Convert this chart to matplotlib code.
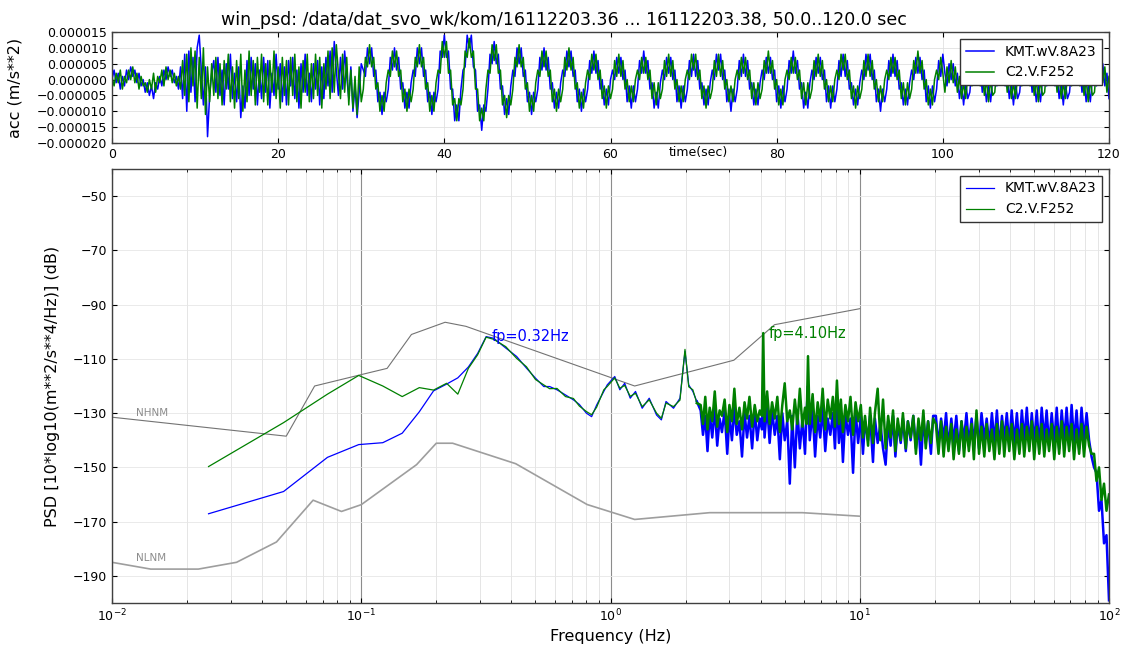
import numpy as np
import matplotlib
matplotlib.use('Agg')
import matplotlib.pyplot as plt
from matplotlib.ticker import FuncFormatter, FixedLocator

# ---------------- data ----------------
title_text = 'win_psd: /data/dat_svo_wk/kom/16112203.36 ... 16112203.38, 50.0..120.0 sec'
series_names = ['KMT.wV.8A23', 'C2.V.F252']
series_colors = ['b', 'g']

# acceleration traces (units of 1e-6 m/s**2), one sample every 0.25 s from 0 s
dt_sec = 0.25
kmt_acc_e6 = [
    0, 3, -1, 2, -3, 1, -2, 3, 0, 4, 1, 3, -1, 2, -2, 0, -4, -1, -5, -2, -6, -1, -3, 1, -2, 3, 0, 4, 1, 3, -1, 1, -3,
    4, -6, 8, -10, 9, -4, 7, -7, 10, 14, 3, -8, 4, -18, -5, 2,
    6, -4, 7, -5, 3, -8, 5, -3, 8, -6, 2, -7,
    4, -12, -2, -9, 6, -5, 7, -3, 5, -8, 3, -6,
    7, -4, 6, -9, 2, -5, 8, -3, 5, -7, 4, -8,
    6, -2, 7, -6, 3, -9, 5, -4, 8, -5, 2, -7,
    5, -3, 6, -8, 4, -6, 7, -2, 9, -4, 12, 3,
    -5, 7, -3, 9, 1, -6, 4, -10, -2, -12, -4, 5,
    3, 1, 10, 5, 10, 1, 3, -7, -4, -11, -4, -7,
    -3, 7, 3, 10, 3, 7, -3, -1, -9, -4, -9, -1,
    3, 1, 10, 5, 10, 1, 3, -7, -4, -11, -4, -7,
    -3, 9, 7, 14, 7, 9, -3, -3, -13, -8, -13, -3,
    3, 4, 14, 10, 14, 4, 3, -10, -8, -16, -8, -10,
    -3, 8, 5, 12, 5, 8, -3, -2, -11, -6, -11, -2,
    3, 1, 10, 5, 10, 1, 3, -7, -4, -11, -4, -7,
    -3, 7, 3, 10, 3, 7, -3, -1, -9, -4, -9, -1,
    3, 1, 9, 4, 9, 1, 3, -7, -3, -10, -3, -7,
    -3, 6, 2, 9, 2, 6, -3, 0, -8, -3, -8, 0,
    3, 0, 7, 2, 7, 0, 3, -7, -2, -9, -2, -7,
    -3, 6, 2, 9, 2, 6, -3, -1, -9, -4, -9, -1,
    3, 0, 7, 2, 7, 0, 3, -7, -2, -9, -2, -7,
    -3, 6, 1, 8, 1, 6, -3, -1, -8, -3, -8, -1,
    3, 0, 8, 3, 8, 0, 3, -7, -3, -10, -3, -7,
    -3, 6, 1, 8, 1, 6, -3, -1, -8, -3, -8, -1,
    3, 0, 7, 2, 7, 0, 3, -7, -2, -9, -2, -7,
    -3, 6, 2, 9, 2, 6, -3, -1, -9, -4, -9, -1,
    3, 0, 7, 2, 7, 0, 3, -7, -2, -9, -2, -7,
    -3, 6, 1, 8, 1, 6, -3, -1, -8, -3, -8, -1,
    3, 0, 8, 3, 8, 0, 3, -7, -3, -10, -3, -7,
    -3, 6, 1, 8, 1, 6, -3, -1, -8, -3, -8, -1,
    3, 0, 7, 2, 7, 0, 3, -7, -2, -9, -2, -7,
    -3, 6, 1, 8,
    2, -2, 5, 0, 5, -2, 2, -6, -1, -8, -1, -6,
    -4, 4, -1, 6, -1, 4, -4, 0, -7, -2, -7, 0,
    2, -2, 5, 0, 5, -2, 2, -6, -1, -8, -1, -6,
    -4, 4, -1, 6, -1, 4, -4, 0, -7, -2, -7, 0,
    2, -2, 5, 0, 5, -2, 2, -6, -1, -8, -1, -6,
    -4, 4, -1, 6, -1, 4, -4, 0, -7, -2, -7, 0,
    2, -2, 5, 0, 5, -2, 2, -6]
c2_acc_e6 = [
    1, -2, 2, -1, 3, -3, 1, -1, 3, 0, 4, -1, 2, -3, 1, -2, -1, -4, 0, -3, 2, -4, 1, -1, 3, -2, 4, 0, 3, -1, 2, -2, 1,
    -3, 6, -5, 8, -7, 10, -2, 9, -9, 7, -6, 10, -11, 4, -7, 5,
    -5, 7, -6, 5, -8, 6, -3, 8, -7, 4, -9, 6,
    -6, 8, -10, 3, -7, 9, -5, 6, -8, 7, -4, 8,
    -7, 5, -8, 6, -4, 9, -6, 4, -9, 7, -5, 6,
    -8, 7, -5, 8, -7, 4, -9, 6, -4, 8, -7, 5,
    -6, 8, -5, 7, -9, 5, -3, 9, -6, 10, -4, 11,
    2, -6, 8, -4, 7, -8, 3, -9, 1, -11, 4, -7,
    -3, 7, 4, 11, 4, 7, -3, -1, -10, -5, -10, -1,
    3, 1, 9, 4, 9, 1, 3, -7, -3, -10, -3, -7,
    -3, 7, 4, 11, 4, 7, -3, -1, -10, -5, -10, -1,
    3, 2, 12, 7, 12, 2, 3, -8, -6, -13, -6, -8,
    -3, 9, 7, 13, 7, 9, -3, -3, -13, -9, -13, -3,
    3, 2, 11, 6, 11, 2, 3, -8, -5, -12, -5, -8,
    -3, 7, 4, 11, 4, 7, -3, -1, -10, -5, -10, -1,
    3, 1, 9, 4, 9, 1, 3, -7, -3, -10, -3, -7,
    -3, 7, 3, 10, 3, 7, -3, -1, -9, -4, -9, -1,
    3, 0, 8, 3, 8, 0, 3, -6, -2, -9, -2, -6,
    -3, 6, 1, 8, 1, 6, -3, 0, -7, -2, -7, 0,
    3, 0, 7, 2, 7, 0, 3, -6, -1, -8, -1, -6,
    -3, 6, 1, 8, 1, 6, -3, 0, -7, -2, -7, 0,
    3, 0, 8, 3, 8, 0, 3, -6, -2, -9, -2, -6,
    -3, 6, 1, 8, 1, 6, -3, 0, -7, -2, -7, 0,
    3, 0, 7, 2, 7, 0, 3, -6, -1, -8, -1, -6,
    -3, 6, 2, 9, 2, 6, -3, 0, -8, -3, -8, 0,
    3, 0, 7, 2, 7, 0, 3, -6, -1, -8, -1, -6,
    -3, 6, 1, 8, 1, 6, -3, 0, -7, -2, -7, 0,
    3, 0, 8, 3, 8, 0, 3, -6, -2, -9, -2, -6,
    -3, 6, 1, 8, 1, 6, -3, 0, -7, -2, -7, 0,
    3, 0, 7, 2, 7, 0, 3, -6, -1, -8, -1, -6,
    -3, 6, 2, 9, 2, 6, -3, 0, -8, -3, -8, 0,
    3, 0, 7, 2,
    -4, 4, -1, 6, -1, 4, -4, 1, -6, -1, -6, 1,
    2, -2, 5, 0, 5, -2, 2, -5, 0, -7, 0, -5,
    -4, 4, -1, 6, -1, 4, -4, 1, -6, -1, -6, 1,
    2, -2, 5, 0, 5, -2, 2, -5, 0, -7, 0, -5,
    -4, 4, -1, 6, -1, 4, -4, 1, -6, -1, -6, 1,
    2, -2, 5, 0, 5, -2, 2, -5, 0, -7, 0, -5,
    -4, 4, -1, 6, -1, 4, -4, 1]

# PSD, low-frequency part (Hz, dB)
kmt_lf_freq = [0.0244, 0.0488, 0.0732, 0.0977, 0.122, 0.146, 0.171, 0.195, 0.22, 0.244, 0.269, 0.293, 0.317]
kmt_lf_db = [-167.1, -158.9, -146.3, -141.6, -140.9, -137.4, -129.5, -121.8, -119.3, -117.0, -113.0, -108.0, -101.8]
c2_lf_freq = [0.0244, 0.0488, 0.0732, 0.0977, 0.122, 0.146, 0.171, 0.195, 0.22, 0.244, 0.269, 0.293, 0.317]
c2_lf_db = [-149.7, -133.5, -123.0, -116.1, -120.0, -123.9, -120.6, -121.5, -119.0, -123.0, -113.5, -108.5, -102.0]

# PSD, mid part (Hz, dB)
mid_freq = [0.34, 0.38, 0.42, 0.46, 0.50, 0.54, 0.57, 0.61, 0.66, 0.71, 0.75, 0.80, 0.84, 0.88, 0.94,
            0.97, 1.04, 1.09, 1.14, 1.20, 1.26, 1.34, 1.43, 1.53, 1.60, 1.67, 1.79, 1.90, 1.99, 2.06, 2.14, 2.22]
kmt_mid_db = [-102.4, -106.0, -109.1, -113.4, -117.1, -120.2, -120.2, -121.4, -123.3, -125.1, -126.8, -130.0,
              -131.3, -127.0, -122.0, -119.6, -116.5, -121.4, -119.0, -124.5, -122.0, -128.2, -124.5, -130.7,
              -132.5, -125.7, -128.2, -124.5, -107.2, -119.6, -122.0, -125.7]
c2_mid_db = [-102.8, -105.5, -109.8, -112.9, -117.6, -119.6, -121.0, -120.9, -123.9, -124.6, -127.4, -129.4,
             -130.6, -127.8, -121.4, -120.2, -117.0, -120.8, -119.8, -123.8, -122.7, -127.6, -125.1, -130.0,
             -131.9, -126.3, -127.6, -125.2, -106.5, -120.3, -121.4, -126.3]

# PSD, high-frequency part (Hz, dB)
hf_freq = [2.3, 2.35, 2.4, 2.45, 2.5, 2.56, 2.62, 2.68, 2.74, 2.8, 2.87, 2.94, 3.0, 3.07, 3.14, 3.21, 3.29,
           3.37, 3.45, 3.53, 3.61, 3.7, 3.79, 3.88, 3.97, 4.05, 4.1, 4.15, 4.25, 4.35, 4.45, 4.56, 4.67, 4.78,
           4.89, 5.0, 5.12, 5.24, 5.36, 5.49, 5.62, 5.75, 5.89, 6.03, 6.12, 6.2, 6.3, 6.47, 6.62, 6.78, 6.94,
           7.1, 7.27, 7.44, 7.62, 7.8, 7.95, 8.1, 8.25, 8.4, 8.56, 8.76, 8.97, 9.18, 9.4, 9.62, 9.85, 10.1,
           10.3, 10.5, 10.8, 11.0, 11.3, 11.5, 11.8, 12.1, 12.4, 12.7, 13.0, 13.3, 13.6, 13.9, 14.2, 14.6,
           14.9, 15.3, 15.6, 16.0, 16.4, 16.8, 17.2, 17.6, 18.0, 18.4, 18.8, 19.3, 19.7, 20.2, 20.7, 21.2,
           21.7, 22.2, 22.7, 23.3, 23.8, 24.4, 25.0, 25.6, 26.2, 26.8, 27.4, 28.1, 28.7, 29.4, 30.1, 30.8,
           31.6, 32.3, 33.1, 33.9, 34.7, 35.5, 36.3, 37.2, 38.0, 38.9, 39.8, 40.7, 41.7, 42.7, 43.7, 44.7,
           45.7, 46.8, 47.9, 49.0, 50.1, 51.3, 52.5, 53.7, 55.0, 56.2, 57.5, 58.9, 60.3, 61.7, 63.1, 64.6,
           66.1, 67.6, 69.2, 70.8, 72.4, 74.1, 75.9, 77.6, 79.4, 81.3, 83.2, 85.1, 87.1, 89.1, 91.2, 93.3,
           95.5, 97.7, 100.0]
kmt_hf_db = [-129, -138, -131, -144, -130, -139, -128, -142, -132, -137, -129, -145, -131, -140, -128, -138,
             -133, -146, -130, -139, -131, -143, -129, -140, -132,
             -136, -121, -139,
             -127, -141, -129, -138, -131, -147, -130, -140, -133, -156, -131, -150, -129, -143, -132, -145, -130,
             -120,
             -140, -129, -146, -131, -139, -128, -144, -132, -138, -130, -143, -124, -141, -131, -148, -130, -138,
             -132, -152, -129, -141,
             -131, -145, -133, -140, -131, -148, -132, -141, -134, -143, -149, -133, -142, -131, -146, -134, -141,
             -132, -144, -133, -140, -131, -143, -134, -149, -132, -141, -133, -145, -131,
             -131, -142, -132, -140, -130, -143, -132, -141, -131, -144, -133, -140, -130, -142, -132, -141, -131,
             -143, -130, -140, -132, -142, -130, -141, -129, -143, -131, -140, -130, -142, -129, -141, -130, -143,
             -129, -140, -128, -142, -130, -141, -129, -143, -128, -140, -129, -142, -130, -141, -128, -143, -129,
             -140, -128, -142, -127, -141, -129, -143, -128, -140, -130,
             -140, -146, -150, -152, -166, -162, -178, -175, -199]
c2_hf_db = [-127, -134, -124, -136, -128, -133, -122, -135, -129, -131, -125, -137, -127, -133, -121, -134,
            -128, -136, -126, -132, -124, -135, -127, -133, -129,
            -131, -100.5, -133,
            -122, -134, -126, -132, -124, -137, -127, -119, -133, -129, -136, -125, -134, -121, -135, -128, -134,
            -109,
            -134, -123, -137, -126, -133, -121, -136, -125, -132, -124, -135, -118, -134, -125, -137, -127, -133,
            -124, -138, -126, -133,
            -127, -139, -131, -142, -128, -141, -130, -121, -140, -125, -143, -131, -139, -129, -144, -132, -140,
            -130, -143, -133, -139, -131, -145, -132, -140, -129, -143, -133, -141, -132,
            -134, -145, -133, -146, -135, -144, -134, -147, -136, -145, -133, -146, -135, -144, -134, -147, -129,
            -145, -135, -146, -134, -144, -136, -147, -134, -145, -133, -146, -135, -144, -134, -147, -136, -145,
            -134, -146, -135, -144, -133, -147, -135, -145, -134, -146, -136, -144, -134, -147, -135, -145, -133,
            -146, -135, -144, -134, -147, -136, -145, -134, -146, -135,
            -142, -145, -145, -155, -150, -162, -156, -166, -160]

# Peterson noise models (Hz, dB)
nhnm_freq = [0.01, 0.05, 0.065, 0.1, 0.127, 0.159, 0.217, 0.263, 1.25, 3.125, 4.55, 10.0]
nhnm_db = [-131.5, -138.5, -120.0, -115.8, -113.5, -101.0, -96.5, -98.0, -120.0, -110.5, -97.4, -91.5]
nlnm_freq = [0.01, 0.0143, 0.0222, 0.0316, 0.0457, 0.0641, 0.0833, 0.1, 0.1667, 0.2, 0.2326, 0.4167,
             0.806, 1.25, 2.5, 5.88, 10.0]
nlnm_db = [-185.0, -187.5, -187.5, -185.0, -177.5, -162.1, -166.25, -163.75, -149.0, -141.1, -141.1,
           -148.65, -163.7, -169.2, -166.7, -166.7, -168.0]
model_labels = [('NHNM', 0.0125, -130.0), ('NLNM', 0.0125, -183.3)]

top_yticks = [-0.000020, -0.000015, -0.000010, -0.000005, 0.0, 0.000005, 0.000010, 0.000015]
top_xticks = [0, 20, 40, 60, 80, 100, 120]
psd_yticks = [-190, -170, -150, -130, -110, -90, -70, -50]

# ---------------- figure ----------------
W, H = 1127, 648
fig = plt.figure(figsize=(W / 100, H / 100), dpi=100)
ax1 = fig.add_axes([112 / W, 1 - 143 / H, 997 / W, 111 / H])
ax2 = fig.add_axes([112 / W, 1 - 603 / H, 997 / W, 434 / H])

for ax in (ax1, ax2):
    ax.tick_params(direction='in', which='both', top=True, right=True, labelsize=9)
    for sp in ax.spines.values():
        sp.set_color('0.25')
        sp.set_linewidth(1.0)

# top panel
for vals, name, col in ((kmt_acc_e6, series_names[0], series_colors[0]),
                        (c2_acc_e6, series_names[1], series_colors[1])):
    v = np.array(vals, dtype=float) * 1e-6
    t = np.arange(len(v)) * dt_sec
    ax1.plot(t, v, color=col, lw=1.1, label=name)
ax1.set_xlim(0, 120)
ax1.set_ylim(-2e-5, 1.5e-5)
ax1.yaxis.set_major_locator(FixedLocator(top_yticks))
ax1.xaxis.set_major_locator(FixedLocator(top_xticks))
ax1.yaxis.set_major_formatter(FuncFormatter(
    lambda v, p: ('%.6f' % (round(v * 1e6) / 1e6 + 0.0)).replace('-', '\u2212')))
ax1.set_ylabel('acc (m/s**2)', fontsize=11.5, labelpad=10)
ax1.set_xlabel('time(sec)', fontsize=9)
ax1.xaxis.set_label_coords(0.588, -0.03)
fig.text(0.5, 1 - 20 / H, title_text, ha='center', va='center', fontsize=12.5)
ax1.grid(True, color='0.88', lw=0.6)
ax1.set_axisbelow(True)
ax1.legend(loc='upper right', fontsize=10, fancybox=False, edgecolor='0.2', framealpha=1,
           handlelength=2.0, borderpad=0.4, labelspacing=0.5)

# bottom panel
ax2.set_xscale('log')
ax2.plot(nhnm_freq, nhnm_db, color='0.45', lw=0.8)
ax2.plot(nlnm_freq, nlnm_db, color='0.62', lw=1.2)
for txt, fx, fy in model_labels:
    ax2.text(fx, fy, txt, color='0.55', fontsize=7.5, va='center')

psd_sets = [
    (kmt_lf_freq, kmt_lf_db, kmt_mid_db, kmt_hf_db),
    (c2_lf_freq, c2_lf_db, c2_mid_db, c2_hf_db),
]
for (lff, lfd, mdd, hfd), name, col in zip(psd_sets, series_names, series_colors):
    low_f = lff + mid_freq
    low_d = lfd + mdd
    high_f = [mid_freq[-1]] + hf_freq
    high_d = [mdd[-1]] + hfd
    ax2.plot(low_f, low_d, color=col, lw=0.9, label=name)
    ax2.plot(high_f, high_d, color=col, lw=1.8)
    all_f = low_f + hf_freq
    all_d = low_d + hfd
    i = int(np.argmax(all_d))
    ax2.annotate('fp=%.2fHz' % all_f[i], xy=(all_f[i], all_d[i]), xytext=(4, 0),
                 textcoords='offset points', color=col, fontsize=10.5, va='center', ha='left')

ax2.set_xlim(1e-2, 1e2)
ax2.set_ylim(-200, -40)
ax2.yaxis.set_major_locator(FixedLocator(psd_yticks))
ax2.xaxis.grid(True, which='major', color='0.55', lw=0.8)
ax2.xaxis.grid(True, which='minor', color='0.88', lw=0.6)
ax2.yaxis.grid(True, which='major', color='0.9', lw=0.6)
ax2.set_axisbelow(True)
ax2.set_xlabel('Frequency (Hz)', fontsize=11.5, labelpad=3)
ax2.set_ylabel('PSD [10*log10(m**2/s**4/Hz)] (dB)', fontsize=11.5, labelpad=9)
ax2.legend(loc='upper right', fontsize=10, fancybox=False, edgecolor='0.2', framealpha=1,
           handlelength=2.0, borderpad=0.4, labelspacing=0.5)

fig.savefig('out.png', dpi=100)
